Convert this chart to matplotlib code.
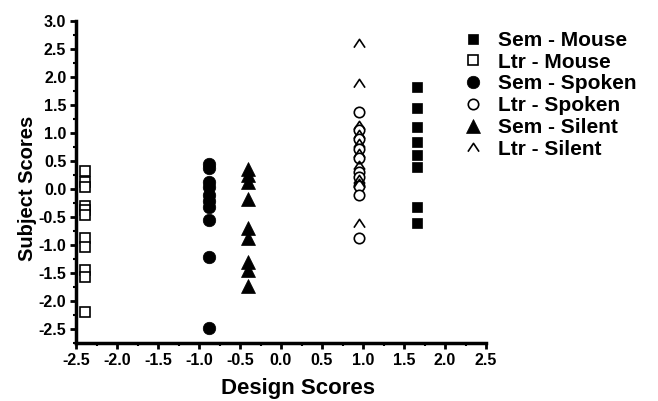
import matplotlib
matplotlib.use("Agg")
import matplotlib.pyplot as plt
from matplotlib.path import Path
from matplotlib.ticker import MultipleLocator, FormatStrFormatter

plt.rcParams['font.family'] = ['Liberation Sans', 'DejaVu Sans']
plt.rcParams['font.weight'] = 'bold'

# one design score per group, and the subject scores measured in that group
groups = ['Sem - Mouse', 'Ltr - Mouse', 'Sem - Spoken', 'Ltr - Spoken',
          'Sem - Silent', 'Ltr - Silent']
design_scores = [1.66, -2.39, -0.88, 0.95, -0.40, 0.95]

sem_mouse = [1.83, 1.45, 1.10, 0.84, 0.60, 0.40, -0.32, -0.60]
ltr_mouse = [0.33, 0.12, 0.03, -0.30, -0.38, -0.46, -0.87, -1.03, -1.45, -1.58, -2.19]
sem_spoken = [0.45, 0.37, 0.12, 0.04, -0.10, -0.22, -0.32, -0.56, -1.21, -2.48]
ltr_spoken = [1.38, 1.05, 0.90, 0.72, 0.55, 0.30, 0.22, 0.05, -0.10, -0.88]
sem_silent = [0.36, 0.25, 0.13, -0.17, -0.70, -0.88, -1.30, -1.45, -1.74]
ltr_silent = [2.60, 1.90, 1.15, 0.98, 0.82, 0.65, 0.42, 0.18, 0.10, -0.60]

subject_scores = [sem_mouse, ltr_mouse, sem_spoken, ltr_spoken, sem_silent, ltr_silent]

# open caret marker (^ without a base)
caret = Path([(-1.0, -0.75), (0.0, 0.75), (1.0, -0.75)],
             [Path.MOVETO, Path.LINETO, Path.LINETO])

styles = [
    dict(marker='s', ms=7.5, mfc='black', mec='black', mew=0.5),
    dict(marker='s', ms=7.0, mfc='white', mec='black', mew=1.2),
    dict(marker='o', ms=9.0, mfc='black', mec='black', mew=0.5),
    dict(marker='o', ms=7.5, mfc='white', mec='black', mew=1.2),
    dict(marker='^', ms=9.5, mfc='black', mec='black', mew=0.5),
    dict(marker=caret, ms=8.0, mfc='none', mec='black', mew=1.2),
]

fig = plt.figure(figsize=(6.58, 4.01), dpi=100)
ax = fig.add_axes([76 / 658, 1 - 343 / 401, 410 / 658, 322 / 401])

for name, x, ys, st in zip(groups, design_scores, subject_scores, styles):
    ax.plot([x] * len(ys), ys, linestyle='none', label=name, **st)

ax.set_xlim(-2.5, 2.5)
ax.set_ylim(-2.75, 3.0)
ax.xaxis.set_major_locator(MultipleLocator(0.5))
ax.xaxis.set_minor_locator(MultipleLocator(0.25))
ax.yaxis.set_major_locator(MultipleLocator(0.5))
ax.yaxis.set_minor_locator(MultipleLocator(0.25))
ax.xaxis.set_major_formatter(FormatStrFormatter('%.1f'))
ax.yaxis.set_major_formatter(FormatStrFormatter('%.1f'))
ax.set_yticks([v * 0.5 for v in range(-5, 7)])

for side in ['top', 'right']:
    ax.spines[side].set_visible(False)
for side in ['left', 'bottom']:
    ax.spines[side].set_linewidth(2.5)

ax.tick_params(which='major', direction='out', length=4, width=2,
               labelsize=11.5, pad=3)
ax.tick_params(which='minor', direction='out', length=2.5, width=1.5)
for lbl in ax.get_xticklabels() + ax.get_yticklabels():
    lbl.set_fontweight('bold')

ax.set_xlabel('Design Scores', fontsize=16, fontweight='bold')
ax.set_ylabel('Subject Scores', fontsize=14.5, fontweight='bold')
ax.xaxis.set_label_coords((298 - 76) / 410, -0.11)
ax.yaxis.set_label_coords(-0.095, 0.48)

fig.legend(loc='upper left', bbox_to_anchor=(463 / 658, 1 - 31 / 401),
           frameon=False, handlelength=1.0, handletextpad=0.7,
           labelspacing=0.13, borderpad=0, borderaxespad=0,
           prop={'weight': 'bold', 'size': 15})

fig.savefig('out.png', dpi=100)
